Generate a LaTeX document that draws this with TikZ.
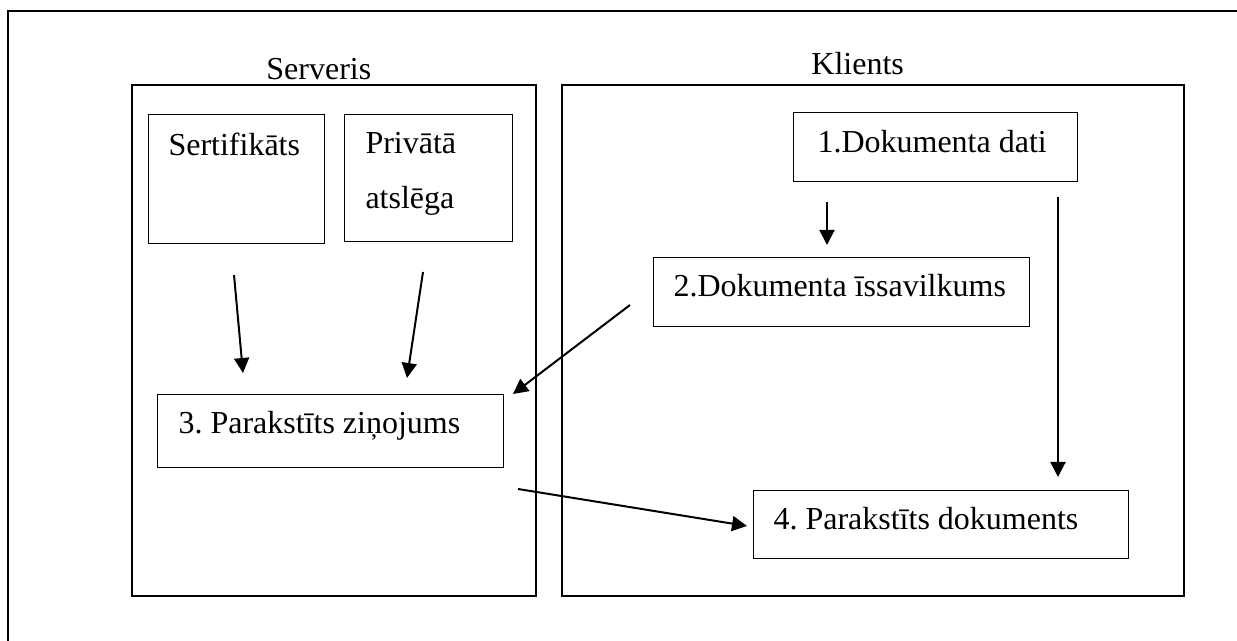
\documentclass[tikz,border=0pt]{standalone}
\usepackage{fontspec}
\setmainfont{Liberation Serif}
\usetikzlibrary{arrows.meta}
\usetikzlibrary{calc}

\begin{document}
\begin{tikzpicture}[x=0.5pt, y=-0.5pt, font=\fontsize{16pt}{27.5pt}\selectfont\frenchspacing]
                \tikzstyle{frame} = [draw, line width=1pt, inner sep=0pt, anchor=north west]
                \tikzstyle{box}   = [draw, line width=0.5pt, anchor=north west, inner ysep=0pt, inner xsep=10pt, align=flush left]
                \tikzstyle{title} = [anchor=base west, inner sep=0pt]
                \tikzstyle{flow}  = [line width=1pt, -{Triangle[length=7.5pt, width=7.5pt]}]
                \useasboundingbox[fill=white] (0,0) rectangle (1237,641);
                \clip (0,0) rectangle (1237,641);
                \draw[line width=1pt] (8,11) rectangle (1300,700);
                %%Sides
                \node [frame, minimum width=202pt, minimum height=255.5pt](serv) at (131,84) {};
                \node [frame, minimum width=311pt, minimum height=255.5pt](klients) at (561,84) {};
                \node [title](servname) at (266,80) {Serveris};
                \node [title](kliname) at (811,75) {Klients};
                %%Boxes
                \node [box, text width=68pt, text height=20.5pt, text depth=44pt](sert) at (148,114) {Sertifikāts};
                \node [box, inner xsep=10.5pt, text width=63pt, text height=19.5pt, text depth=44pt](priv) at (344,114) {Privātā\\atslēga};
                \node [box, inner xsep=12pt, text width=118pt, text height=20pt, text depth=14.5pt](dati) at (793,112) {1.Dokumenta dati};
                \node [box, text width=168pt, text height=19.5pt, text depth=15pt](kops) at (653,257) {2.Dokumenta īssavilkums};
                \node [box, inner xsep=10.5pt, text width=152pt, text height=19.5pt, text depth=17pt](zin) at (157,394) {3. Parakstīts ziņojums};
                \node [box, text width=167.5pt, text height=19.5pt, text depth=14.5pt](dok) at (753,490) {4. Parakstīts dokuments};
                %%Arrow ends
                \coordinate (a1) at (234,275);  \coordinate (b1) at (243,373);
                \coordinate (a2) at (423,272);  \coordinate (b2) at (407,378);
                \coordinate (a3) at (630,305);  \coordinate (b3) at (513,394);
                \coordinate (a4) at (827,202);  \coordinate (b4) at (827,245);
                \coordinate (a5) at (1058,197); \coordinate (b5) at (1058,477);
                \coordinate (a6) at (518,489);  \coordinate (b6) at (747,526);
                %%Edges
                \draw [flow] (a1)--(b1);
                \draw [flow] (a2)--(b2);
                \draw [flow] (a3)--(b3);
                \draw [flow] (a4)--(b4);
                \draw [flow] (a5)--(b5);
                \draw [flow] (a6)--(b6);
\end{tikzpicture}
\end{document}
